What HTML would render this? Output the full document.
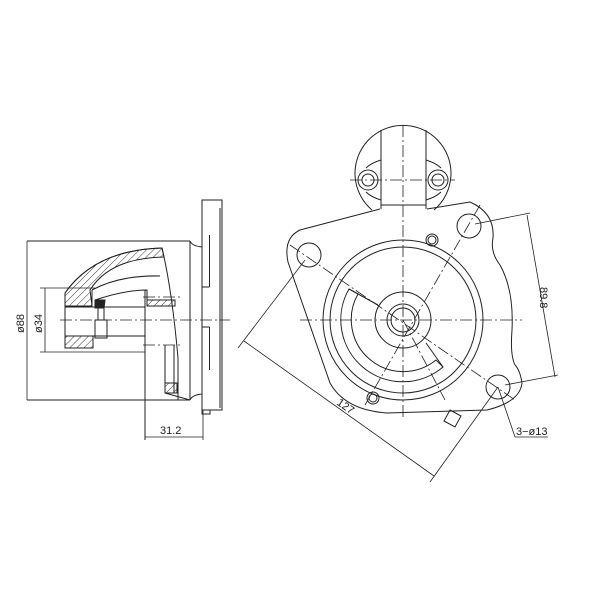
<!DOCTYPE html>
<html><head><meta charset="utf-8"><style>
html,body{margin:0;padding:0;background:#fff}
svg{display:block}
text{font-family:"Liberation Sans",sans-serif;fill:#222}
</style></head><body>
<svg width="600" height="600" viewBox="0 0 600 600" xmlns="http://www.w3.org/2000/svg">
<defs>
<pattern id="h" width="5" height="5" patternUnits="userSpaceOnUse" patternTransform="rotate(45)">
<line x1="0" y1="0" x2="0" y2="5" stroke="#222" stroke-width="0.9"/>
</pattern>
</defs>
<g fill="none" stroke="#222" stroke-width="1">
<!-- LEFT VIEW -->
<rect x="202" y="200" width="20" height="210"/>
<line x1="220" y1="208" x2="220" y2="408"/>
<line x1="209.5" y1="235" x2="209.5" y2="287"/>
<line x1="209.5" y1="327" x2="209.5" y2="370"/>
<line x1="209.5" y1="287" x2="202" y2="287"/>
<line x1="209.5" y1="327" x2="202" y2="327"/>
<path d="M202,410 V414 H210 V410"/>
<line x1="27" y1="241" x2="190" y2="241"/>
<line x1="27" y1="400" x2="190" y2="400"/>
<path d="M190,241 Q192,246 202,247"/>
<path d="M190,400 Q192,395 202,394"/>
<line x1="190" y1="241" x2="190" y2="400"/>
<path d="M65,293 Q95,250 162,248 Q172,290 178,358 L178,400" />
<path d="M65,293 Q95,250 162,248 L164,257 Q110,258 90,290 L92,306 L65,306 Z" fill="url(#h)"/>
<path d="M92,290 Q120,275 160,276"/>
<path d="M95,300 Q125,290 147,290 L147,300"/>
<line x1="92" y1="290" x2="92" y2="306"/>
<line x1="65" y1="293" x2="65" y2="348"/>
<line x1="65" y1="307" x2="145" y2="307"/>
<rect x="65" y="336" width="28" height="12" fill="url(#h)"/>
<line x1="65" y1="336" x2="145" y2="336"/>
<rect x="147" y="300" width="28" height="6" fill="url(#h)"/>
<path d="M95,300 L105,300 L104,308 L95,308 Z" fill="#222"/>
<rect x="98" y="308" width="6" height="12"/>
<rect x="95" y="320" width="12" height="18"/>
<line x1="145" y1="290" x2="145" y2="440"/>
<line x1="165" y1="345" x2="165" y2="393"/>
<line x1="174" y1="345" x2="174" y2="393"/>
<rect x="165" y="383" width="12" height="10" fill="url(#h)"/>
<line x1="165" y1="393" x2="190" y2="400"/>
<line x1="60" y1="320" x2="230" y2="320" stroke-dasharray="12,3,2,3" stroke-width="0.8"/>
<line x1="143" y1="297" x2="180" y2="297" stroke-dasharray="12,3,2,3" stroke-width="0.8"/>
<line x1="143" y1="345" x2="182" y2="345" stroke-dasharray="12,3,2,3" stroke-width="0.8"/>
<line x1="27" y1="241" x2="27" y2="400" stroke-width="0.8"/>
<line x1="40" y1="288" x2="95" y2="288" stroke-width="0.8"/>
<line x1="40" y1="352" x2="145" y2="352" stroke-width="0.8"/>
<line x1="45" y1="288" x2="45" y2="352" stroke-width="0.8"/>
<line x1="145" y1="437" x2="203" y2="437" stroke-width="0.8"/>
<line x1="203" y1="410" x2="203" y2="440" stroke-width="0.8"/>

<!-- RIGHT VIEW -->
<path d="M372,210 A48,48 0 1 1 434,210"/>
<line x1="381" y1="130" x2="381" y2="209"/>
<line x1="426" y1="130" x2="426" y2="209"/>
<line x1="381" y1="205" x2="426" y2="205"/>
<path d="M381,160 Q371,163 366,168 M381,200 Q371,197 366,192"/>
<path d="M426,160 Q436,163 441,168 M426,200 Q436,197 441,192"/>
<circle cx="368" cy="180" r="10"/><circle cx="368" cy="180" r="6"/>
<circle cx="438" cy="180" r="10"/><circle cx="438" cy="180" r="6"/>
<line x1="350" y1="180" x2="455" y2="180" stroke-dasharray="12,3,2,3" stroke-width="0.8"/>
<path d="M380,209 L300,230 Q283,238 288,262 L330,383 Q345,410 387,413 L487,410 Q520,402 522,383 Q520,370 515,365 Q510,355 512,330 Q514,290 500,265 Q490,252 493,238 Q495,213 470,202 L427,209"/>
<circle cx="309" cy="255" r="12"/>
<circle cx="469" cy="226" r="12"/>
<circle cx="498" cy="387" r="12"/>
<circle cx="403" cy="320" r="80"/>
<circle cx="403" cy="320" r="73"/>
<circle cx="403" cy="320" r="28"/>
<circle cx="403" cy="320" r="16"/>
<circle cx="403" cy="320" r="12"/>
<path d="M349,289 A62,62 0 0 0 443,367 L436,360 A52,52 0 0 1 358,294 Z"/>
<line x1="349" y1="289" x2="378" y2="305"/>
<line x1="443" y1="367" x2="426" y2="343"/>
<circle cx="432" cy="240" r="6"/><circle cx="432" cy="240" r="4"/>
<circle cx="373" cy="398" r="6"/><circle cx="373" cy="398" r="4"/>
<path d="M450,410 L461,416 L455,427 L444,421 Z"/>
<g stroke-dasharray="12,3,2,3" stroke-width="0.8">
<line x1="300" y1="320" x2="522" y2="320"/>
<line x1="403" y1="125" x2="403" y2="418"/>
<line x1="290" y1="245" x2="515" y2="400"/>
<line x1="480" y1="205" x2="365" y2="405"/>
<line x1="403" y1="320" x2="445" y2="400"/>
</g>
<g stroke-width="0.8">
<line x1="305" y1="260" x2="238" y2="348"/>
<line x1="498" y1="387" x2="430" y2="482"/>
<line x1="244" y1="341" x2="434" y2="476"/>
<line x1="475" y1="224" x2="530" y2="213"/>
<line x1="505" y1="385" x2="558" y2="375"/>
<line x1="527" y1="215" x2="555" y2="377"/>
<line x1="498" y1="387" x2="515" y2="437"/>
<line x1="515" y1="437" x2="548" y2="437"/>
</g>
</g>
<text x="0" y="0" font-size="11" transform="translate(24,333) rotate(-90)">ø88</text>
<text x="0" y="0" font-size="11" transform="translate(42,333) rotate(-90)">ø34</text>
<text x="160" y="434" font-size="11">31.2</text>
<text x="0" y="0" font-size="11" transform="translate(540,287) rotate(90)">89.8</text>
<text x="0" y="0" font-size="11" transform="translate(336,404) rotate(35)">127</text>
<text x="516" y="435" font-size="11">3−ø13</text>
</svg>
</body></html>
